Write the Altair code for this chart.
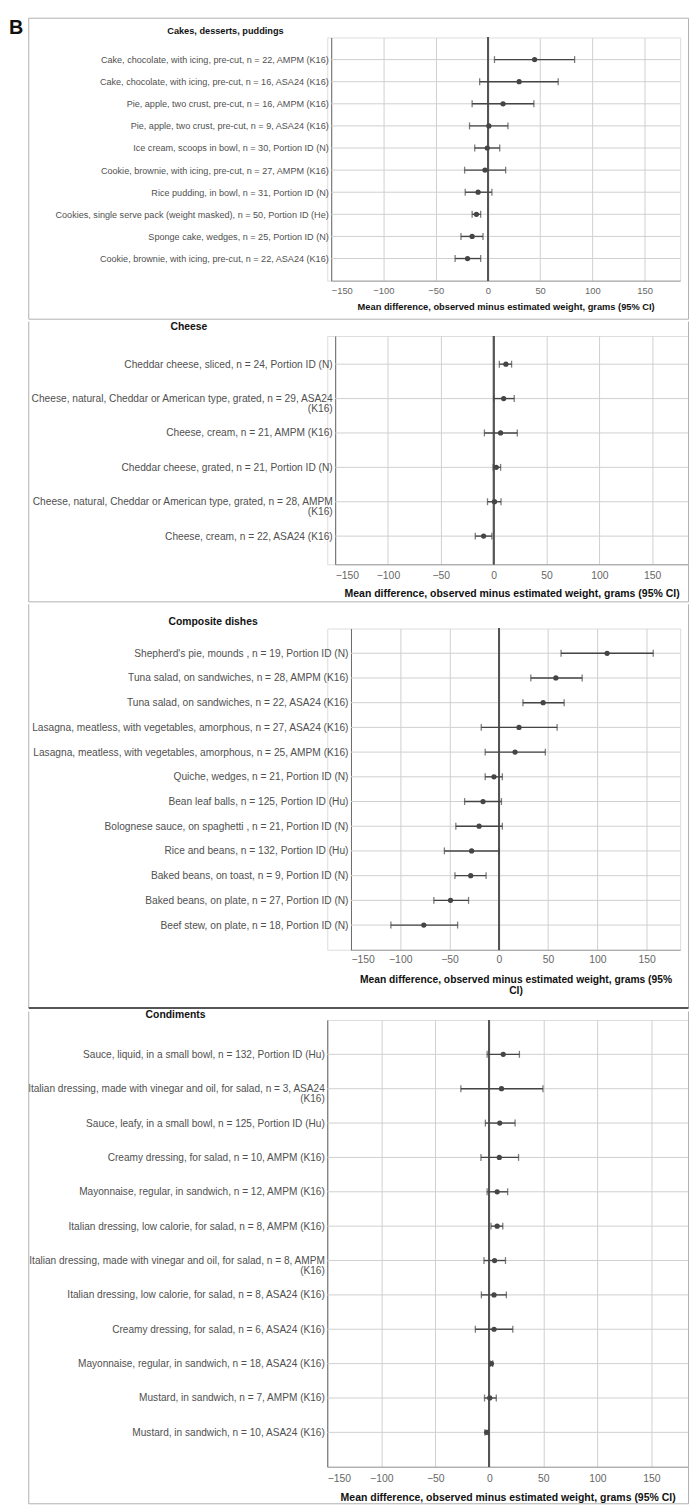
import altair as alt
import pandas as pd

FONT = "Liberation Sans"

# ---------------- data ----------------
cakes_labels = [
    "Cake, chocolate, with icing, pre-cut, n = 22, AMPM (K16)",
    "Cake, chocolate, with icing, pre-cut, n = 16, ASA24 (K16)",
    "Pie, apple, two crust, pre-cut, n = 16, AMPM (K16)",
    "Pie, apple, two crust, pre-cut, n = 9, ASA24 (K16)",
    "Ice cream, scoops in bowl, n = 30, Portion ID (N)",
    "Cookie, brownie, with icing, pre-cut, n = 27, AMPM (K16)",
    "Rice pudding, in bowl, n = 31, Portion ID (N)",
    "Cookies, single serve pack (weight masked), n = 50, Portion ID (He)",
    "Sponge cake, wedges, n = 25, Portion ID (N)",
    "Cookie, brownie, with icing, pre-cut, n = 22, ASA24 (K16)",
]
cakes_mean = [44.7, 29.9, 14.5, 0.9, -0.6, -2.8, -9.4, -11.0, -15.1, -19.5]
cakes_lo = [6.3, -7.9, -15.1, -17.6, -12.6, -22.3, -21.7, -15.1, -25.8, -31.4]
cakes_hi = [83.0, 67.3, 44.0, 19.2, 11.3, 17.0, 3.8, -6.9, -4.7, -6.9]

cheese_labels = [
    "Cheddar cheese, sliced, n = 24, Portion ID (N)",
    "Cheese, natural, Cheddar or American type, grated, n = 29, ASA24|(K16)",
    "Cheese, cream, n = 21, AMPM (K16)",
    "Cheddar cheese, grated, n = 21, Portion ID (N)",
    "Cheese, natural, Cheddar or American type, grated, n = 28, AMPM|(K16)",
    "Cheese, cream, n = 22, ASA24 (K16)",
]
cheese_mean = [11.6, 9.5, 6.6, 2.5, 0.8, -9.5]
cheese_lo = [5.4, 0.0, -8.7, -0.4, -5.8, -17.4]
cheese_hi = [17.0, 19.5, 22.4, 6.6, 7.0, -1.7]

composite_labels = [
    "Shepherd's pie, mounds , n = 19, Portion ID (N)",
    "Tuna salad, on sandwiches, n = 28, AMPM (K16)",
    "Tuna salad, on sandwiches, n = 22, ASA24 (K16)",
    "Lasagna, meatless, with vegetables, amorphous, n = 27, ASA24 (K16)",
    "Lasagna, meatless, with vegetables, amorphous, n = 25, AMPM (K16)",
    "Quiche, wedges, n = 21, Portion ID (N)",
    "Bean leaf balls, n = 125, Portion ID (Hu)",
    "Bolognese sauce, on spaghetti , n = 21, Portion ID (N)",
    "Rice and beans, n = 132, Portion ID (Hu)",
    "Baked beans, on toast, n = 9, Portion ID (N)",
    "Baked beans, on plate, n = 27, Portion ID (N)",
    "Beef stew, on plate, n = 18, Portion ID (N)",
]
composite_mean = [109.9, 57.9, 45.0, 20.5, 16.5, -4.9, -16.0, -20.0, -27.6, -28.5, -49.0, -76.1]
composite_lo = [63.2, 32.5, 24.5, -17.8, -13.8, -13.8, -34.7, -43.6, -55.2, -44.5, -65.9, -109.5]
composite_hi = [156.7, 84.6, 66.3, 59.2, 47.2, 3.6, 2.7, 3.6, 0.4, -12.9, -30.7, -41.8]

condiments_labels = [
    "Sauce, liquid, in a small bowl, n = 132, Portion ID (Hu)",
    "Italian dressing, made with vinegar and oil, for salad, n = 3, ASA24|(K16)",
    "Sauce, leafy, in a small bowl, n = 125, Portion ID (Hu)",
    "Creamy dressing, for salad, n = 10, AMPM (K16)",
    "Mayonnaise, regular, in sandwich, n = 12, AMPM (K16)",
    "Italian dressing, low calorie, for salad, n = 8, AMPM (K16)",
    "Italian dressing, made with vinegar and oil, for salad, n = 8, AMPM|(K16)",
    "Italian dressing, low calorie, for salad, n = 8, ASA24 (K16)",
    "Creamy dressing, for salad, n = 6, ASA24 (K16)",
    "Mayonnaise, regular, in sandwich, n = 18, ASA24 (K16)",
    "Mustard, in sandwich, n = 7, AMPM (K16)",
    "Mustard, in sandwich, n = 10, ASA24 (K16)",
]
condiments_mean = [12.9, 11.3, 9.7, 9.3, 7.3, 7.3, 4.9, 4.4, 4.4, 2.0, 0.4, -2.4]
condiments_lo = [-2.0, -26.3, -3.6, -7.7, -2.0, 1.6, -4.9, -7.3, -12.9, 0.8, -4.4, -4.0]
condiments_hi = [27.9, 49.7, 23.9, 27.1, 17.0, 12.5, 15.0, 15.8, 21.8, 3.2, 6.5, -0.8]

x_domain = [-150, 184]
x_ticks = [-150, -100, -50, 0, 50, 100, 150]
axis_title = "Mean difference, observed minus estimated weight, grams (95% CI)"
axis_title_wrapped = ["Mean difference, observed minus estimated weight, grams (95%", "CI)"]

BOX_L = -302
BOX_R = 365.5
ONE = pd.DataFrame({"k": [0]})
INK = "#454545"


def text_layer(txt, x, y, size, align="center"):
    return alt.Chart(pd.DataFrame({"t": [txt]})).mark_text(
        font=FONT, fontSize=size, fontWeight="bold", align=align,
        baseline="middle", color="#111111"
    ).encode(text="t:N", x=alt.value(x), y=alt.value(y))


def vrule(x, y0, y1, color="#b0b0b0", w=1):
    return alt.Chart(ONE).mark_rule(color=color, strokeWidth=w).encode(
        x=alt.value(x), y=alt.value(y0), y2=alt.value(y1))


def hrule(y, color="#b0b0b0", w=1):
    return alt.Chart(ONE).mark_rule(color=color, strokeWidth=w).encode(
        y=alt.value(y), x=alt.value(BOX_L), x2=alt.value(BOX_R))


def panel(title, labels, mean, lo, hi, p):
    df = pd.DataFrame({"label": labels, "mean": mean, "lo": lo, "hi": hi})
    w, h = p["w"], p["h"]
    xscale = alt.Scale(domain=x_domain, range=[p["a"], w], nice=False, zero=False)
    yscale = alt.Scale(type="point", domain=labels, padding=p["pad"])
    xaxis = alt.Axis(
        values=x_ticks, title=p["xtitle"], grid=True, gridColor="#cfcfcf",
        domainColor="#9a9a9a", ticks=False, tickSize=0,
        labelFont=FONT, labelFontSize=p["tick_fs"], labelColor="#666666",
        labelPadding=p["lpad"], titleFont=FONT, titleFontSize=p["title_fs"],
        titleFontWeight="bold", titleColor="#111111", titlePadding=p["tpad"],
        titleLineHeight=11,
    )
    yaxis = alt.Axis(
        title=None, grid=False, ticks=False, tickSize=0, domainColor="#6a6a6a",
        offset=-p["a"], labelFont=FONT, labelFontSize=p["lab_fs"],
        labelColor="#505050", labelPadding=3, labelLimit=420,
        labelExpr="split(datum.label, '|')", labelLineHeight=10,
    )
    Y = alt.Y("label:N", scale=yscale, axis=yaxis)
    base = alt.Chart(df)
    rows = base.mark_rule(color="#cfcfcf", strokeWidth=1).encode(
        y=Y, x=alt.datum(-150), x2=alt.datum(184))
    zero = base.mark_rule(color="#555555", strokeWidth=1.4).encode(x=alt.datum(0))
    bars = base.mark_rule(color=INK, strokeWidth=1.4).encode(
        x=alt.X("lo:Q", scale=xscale, axis=xaxis), x2="hi:Q", y=Y)
    cap_lo = base.mark_tick(color=INK, size=7, thickness=1.3).encode(
        x=alt.X("lo:Q", scale=xscale, axis=xaxis), y=Y)
    cap_hi = base.mark_tick(color=INK, size=7, thickness=1.3).encode(
        x=alt.X("hi:Q", scale=xscale, axis=xaxis), y=Y)
    pts = base.mark_circle(color=INK, size=28, opacity=1).encode(
        x=alt.X("mean:Q", scale=xscale, axis=xaxis), y=Y)

    layers = [rows, zero, bars, cap_lo, cap_hi, pts,
              text_layer(title, p["tx"], p["ty"], p["head_fs"]),
              vrule(BOX_L, p["top"], p["bottom"]),
              vrule(BOX_R, p["top"], p["bottom"]),
              hrule(p["bottom"], p.get("bcolor", "#b0b0b0"), p.get("bw", 1))]
    if p.get("top_line"):
        layers.append(hrule(p["top"]))
    if p.get("B"):
        layers.append(text_layer("B", -322, -9.5, 20, align="left"))
    return alt.layer(*layers).properties(width=w, height=h)


p1 = panel("Cakes, desserts, puddings", cakes_labels, cakes_mean, cakes_lo, cakes_hi, dict(
    a=4, w=357, h=246, pad=1.04, xtitle=axis_title, tick_fs=9.5, lab_fs=9.2, lpad=5,
    title_fs=9.4, tpad=8, tx=-103, ty=-7, head_fs=9.3, top=-19.5, bottom=285,
    top_line=True, B=True))
p2 = panel("Cheese", cheese_labels, cheese_mean, cheese_lo, cheese_hi, dict(
    a=8, w=365, h=231, pad=0.82, xtitle=axis_title, tick_fs=10.5, lab_fs=10.3, lpad=6,
    title_fs=10.6, tpad=8.5, tx=-140, ty=-9.5, head_fs=10.5, top=-14.5, bottom=269))
p3 = panel("Composite dishes", composite_labels, composite_mean, composite_lo, composite_hi, dict(
    a=24, w=357, h=325, pad=1.15, xtitle=axis_title_wrapped, tick_fs=10.5, lab_fs=10.3, lpad=5,
    title_fs=10.4, tpad=10, tx=-115.5, ty=-7, head_fs=10.5, top=-24.5, bottom=384,
    bcolor="#555555", bw=2))
p4 = panel("Condiments", condiments_labels, condiments_mean, condiments_lo, condiments_hi, dict(
    a=0, w=365, h=452, pad=1.12, xtitle=axis_title, tick_fs=10.5, lab_fs=10.2, lpad=7,
    title_fs=10.6, tpad=9, tx=-153.5, ty=-4.5, head_fs=10.5, top=-8.5, bottom=452 + 37.5))

chart = alt.vconcat(p1, p2, p3, p4, spacing=0).properties(padding=0).configure_view(
    strokeOpacity=0).configure(background="white")

chart.save("out.html", embed_options={"renderer": "svg", "actions": False})
